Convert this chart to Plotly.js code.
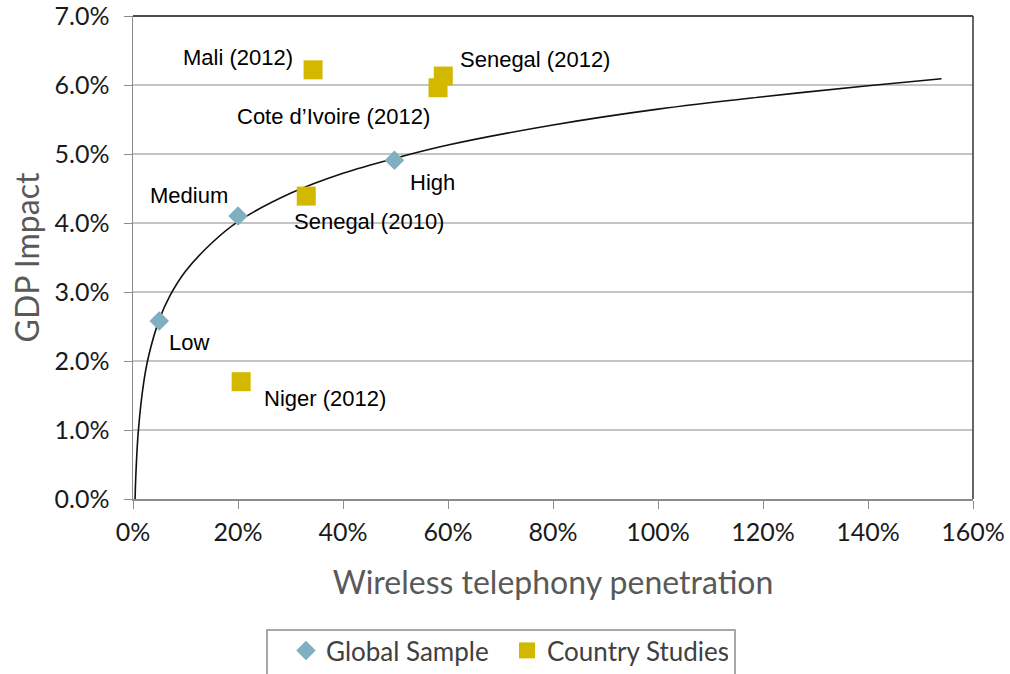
<!DOCTYPE html>
<html>
<head>
<meta charset="utf-8">
<script src="https://cdn.plot.ly/plotly-3.0.1.min.js"></script>
<style>
  html, body { margin: 0; padding: 0; background: #fff; overflow: hidden; }
  #gdp_graph { width: 1010px; height: 674px; }
</style>
</head>
<body>
<div id="gdp_graph"></div>
<script>
/**
 * Colors
 */
const diamondBlue = "#7FAFC0";   // Global sample
const gold = "#D3B800";          // Country studies
const gridColor = "#C4C4C4";
const axisColor = "#8C8C8C";
const titleColor = "#595959";
const tickColor = "#1A1A1A";

const tickFont = "Lato, 'Open Sans', sans-serif";
const labelFont = "'Liberation Sans', Arial, sans-serif";

/**
 * DATA (penetration in %, GDP impact in %)
 */
const global_names = ["Low", "Medium", "High"];
const global_x = [5, 20, 49.8];
const global_y = [2.58, 4.1, 4.91];

const country_names = ["Mali (2012)", "Senegal (2012)", "Cote d\u2019Ivoire (2012)", "Senegal (2010)", "Niger (2012)"];
const country_x = [34.3, 59.1, 58.1, 33, 20.6];
const country_y = [6.22, 6.13, 5.96, 4.39, 1.7];

// trend line
const trend_x = [0.4, 0.5, 1, 2, 3, 5, 7, 10, 15, 20, 30, 40, 50, 60, 80, 100, 120, 140, 154];
const trend_y = [0.0, 0.27, 0.97, 1.67, 2.08, 2.6, 2.94, 3.3, 3.71, 4.02, 4.43, 4.72, 4.94, 5.13, 5.42, 5.65, 5.83, 5.99, 6.09];

// label offsets for each point (pixels)
const global_label_pos = [
    {xanchor: "left", xshift: 8, yshift: -22},
    {xanchor: "right", xshift: -8, yshift: 21},
    {xanchor: "left", xshift: 14, yshift: -22}
];
const country_label_pos = [
    {xanchor: "right", xshift: -18, yshift: 12},
    {xanchor: "left", xshift: 15, yshift: 17},
    {xanchor: "right", xshift: -6, yshift: -29},
    {xanchor: "center", xshift: 63, yshift: -25},
    {xanchor: "left", xshift: 21, yshift: -17}
];

const xTicks = [0, 20, 40, 60, 80, 100, 120, 140, 160];
const yTicks = [0, 1, 2, 3, 4, 5, 6, 7];

function gdpChart() {
    var trend = {
        x: trend_x,
        y: trend_y,
        type: "scatter",
        mode: "lines",
        line: {color: "#111", width: 1.6, shape: "spline", smoothing: 1},
        showlegend: false,
        hoverinfo: "skip"
    };

    var global = {
        x: global_x,
        y: global_y,
        type: "scatter",
        mode: "markers",
        name: "Global Sample",
        marker: {symbol: "diamond", size: 15, color: diamondBlue}
    };

    var country = {
        x: country_x,
        y: country_y,
        type: "scatter",
        mode: "markers",
        name: "Country Studies",
        marker: {symbol: "square", size: 19, color: gold}
    };

    var annotations = [];
    for (let i = 0; i < global_names.length; i++) {
        annotations.push(Object.assign({
            x: global_x[i], y: global_y[i], text: global_names[i],
            showarrow: false, yanchor: "middle",
            font: {family: labelFont, size: 22, color: "#000"}
        }, global_label_pos[i]));
    }
    for (let i = 0; i < country_names.length; i++) {
        annotations.push(Object.assign({
            x: country_x[i], y: country_y[i], text: country_names[i],
            showarrow: false, yanchor: "middle",
            font: {family: labelFont, size: 22, color: "#000"}
        }, country_label_pos[i]));
    }

    var layout = {
        width: 1010,
        height: 674,
        margin: {l: 133, r: 37, t: 16, b: 175, pad: 0},
        paper_bgcolor: "#fff",
        plot_bgcolor: "#fff",
        xaxis: {
            range: [0, 160],
            tickvals: xTicks,
            ticktext: xTicks.map(v => v + "%"),
            tickfont: {family: tickFont, size: 25, color: tickColor},
            ticklabeloverflow: "allow",
            gridcolor: "rgba(0,0,0,0)",
            showline: true,
            linecolor: axisColor,
            linewidth: 1.5,
            ticks: "outside",
            ticklen: 8,
            tickcolor: axisColor,
            ticklabelstandoff: 2,
            zeroline: false,
            title: {
                text: "Wireless telephony penetration",
                font: {family: tickFont, size: 32, color: titleColor},
                standoff: 27
            }
        },
        yaxis: {
            range: [0, 7],
            tickvals: yTicks,
            ticktext: yTicks.map(v => v.toFixed(1) + "%"),
            tickfont: {family: tickFont, size: 25, color: tickColor},
            ticklabeloverflow: "allow",
            gridcolor: gridColor,
            gridwidth: 1.5,
            showline: true,
            linecolor: axisColor,
            linewidth: 1.5,
            ticks: "outside",
            ticklen: 8,
            tickcolor: axisColor,
            ticklabelstandoff: 9,
            zeroline: false,
            title: {
                text: "GDP Impact",
                font: {family: tickFont, size: 32, color: titleColor},
                standoff: 5
            }
        },
        shapes: [
            {type: "line", xref: "paper", yref: "paper", x0: 0, x1: 1, y0: 1, y1: 1,
             layer: "above", line: {color: "#111", width: 1.5}},
            {type: "line", xref: "paper", yref: "paper", x0: 1, x1: 1, y0: 0, y1: 1,
             layer: "above", line: {color: "#333", width: 1.5}},
            // legend frame, running off the bottom edge like the original
            {type: "rect", xref: "paper", yref: "paper",
             x0: (267 - 133) / 840, x1: (735 - 133) / 840,
             y0: (499 - 630) / 483, y1: (499 - 700) / 483,
             line: {color: "#8C8C8C", width: 1.5}, fillcolor: "rgba(0,0,0,0)"}
        ],
        annotations: annotations,
        showlegend: true,
        legend: {
            orientation: "h",
            xref: "container",
            yref: "container",
            x: 286 / 1010,
            xanchor: "left",
            y: -4 / 674,
            yanchor: "bottom",
            bgcolor: "rgba(0,0,0,0)",
            borderwidth: 0,
            font: {family: tickFont, size: 26, color: "#404040"},
            entrywidth: 176,
            itemsizing: "trace"
        }
    };

    Plotly.newPlot("gdp_graph", [trend, global, country], layout, {displayModeBar: false, staticPlot: true});
}

gdpChart();
</script>
</body>
</html>
